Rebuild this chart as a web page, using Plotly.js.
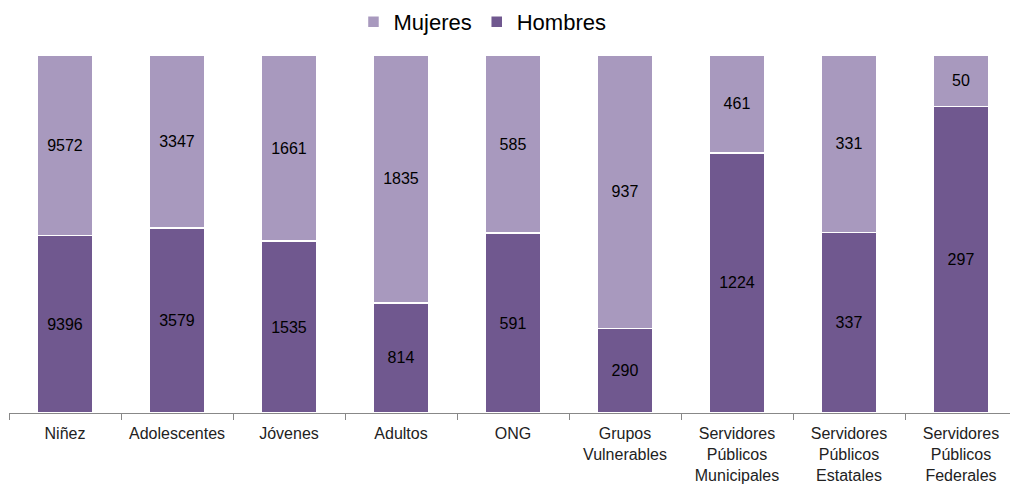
<!DOCTYPE html>
<html>
<head>
<meta charset="utf-8">
<script src="https://cdn.plot.ly/plotly-3.0.1.min.js"></script>
<style>html,body{margin:0;padding:0;background:#fff;}#chart{width:1010px;height:488px;}</style>
</head>
<body>
<div id="chart"></div>
<script>
const categories = ["Niñez", "Adolescentes", "Jóvenes", "Adultos", "ONG", "Grupos<br>Vulnerables", "Servidores<br>Públicos<br>Municipales", "Servidores<br>Públicos<br>Estatales", "Servidores<br>Públicos<br>Federales"];
const hombres = [9396, 3579, 1535, 814, 591, 290, 1224, 337, 297];
const mujeres = [9572, 3347, 1661, 1835, 585, 937, 461, 331, 50];

const labelFont = {family: "Liberation Sans, Arial, sans-serif", size: 16, color: "#000"};
const traces = [
  {type: "bar", name: "Hombres", x: categories, y: hombres, text: hombres.map(String),
   textposition: "inside", insidetextanchor: "middle", textfont: labelFont, textangle: 0,
   marker: {color: "#70588F", line: {color: "#ffffff", width: 1.5}}, width: 0.5, hoverinfo: "none"},
  {type: "bar", name: "Mujeres", x: categories, y: mujeres, text: mujeres.map(String),
   textposition: "inside", insidetextanchor: "middle", textfont: labelFont, textangle: 0,
   marker: {color: "#A899BE", line: {color: "#ffffff", width: 1.5}}, width: 0.5, hoverinfo: "none"}
];
const layout = {
  width: 1010, height: 488,
  margin: {l: 9, r: 0, t: 55, b: 75},
  barmode: "stack", barnorm: "percent",
  paper_bgcolor: "#fff", plot_bgcolor: "#fff",
  showlegend: true,
  legend: {orientation: "h", x: 0.473, xanchor: "center", y: 1.092, yanchor: "middle",
           traceorder: "reversed", font: {family: "Liberation Sans, Arial, sans-serif", size: 22, color: "#000"}},
  xaxis: {range: [-0.5, 8.4375], tickson: "boundaries", ticks: "outside", ticklen: 6, tickcolor: "#888",
          showline: true, linecolor: "#888", linewidth: 1, showgrid: false, zeroline: false,
          ticklabelstandoff: 6,
          tickfont: {family: "Liberation Sans, Arial, sans-serif", size: 16, color: "#222"}, tickangle: 0},
  yaxis: {range: [0, 100], visible: false, showgrid: false, zeroline: false},
  uniformtext: {mode: false}
};
Plotly.newPlot("chart", traces, layout, {displayModeBar: false, staticPlot: true});
</script>
</body>
</html>
